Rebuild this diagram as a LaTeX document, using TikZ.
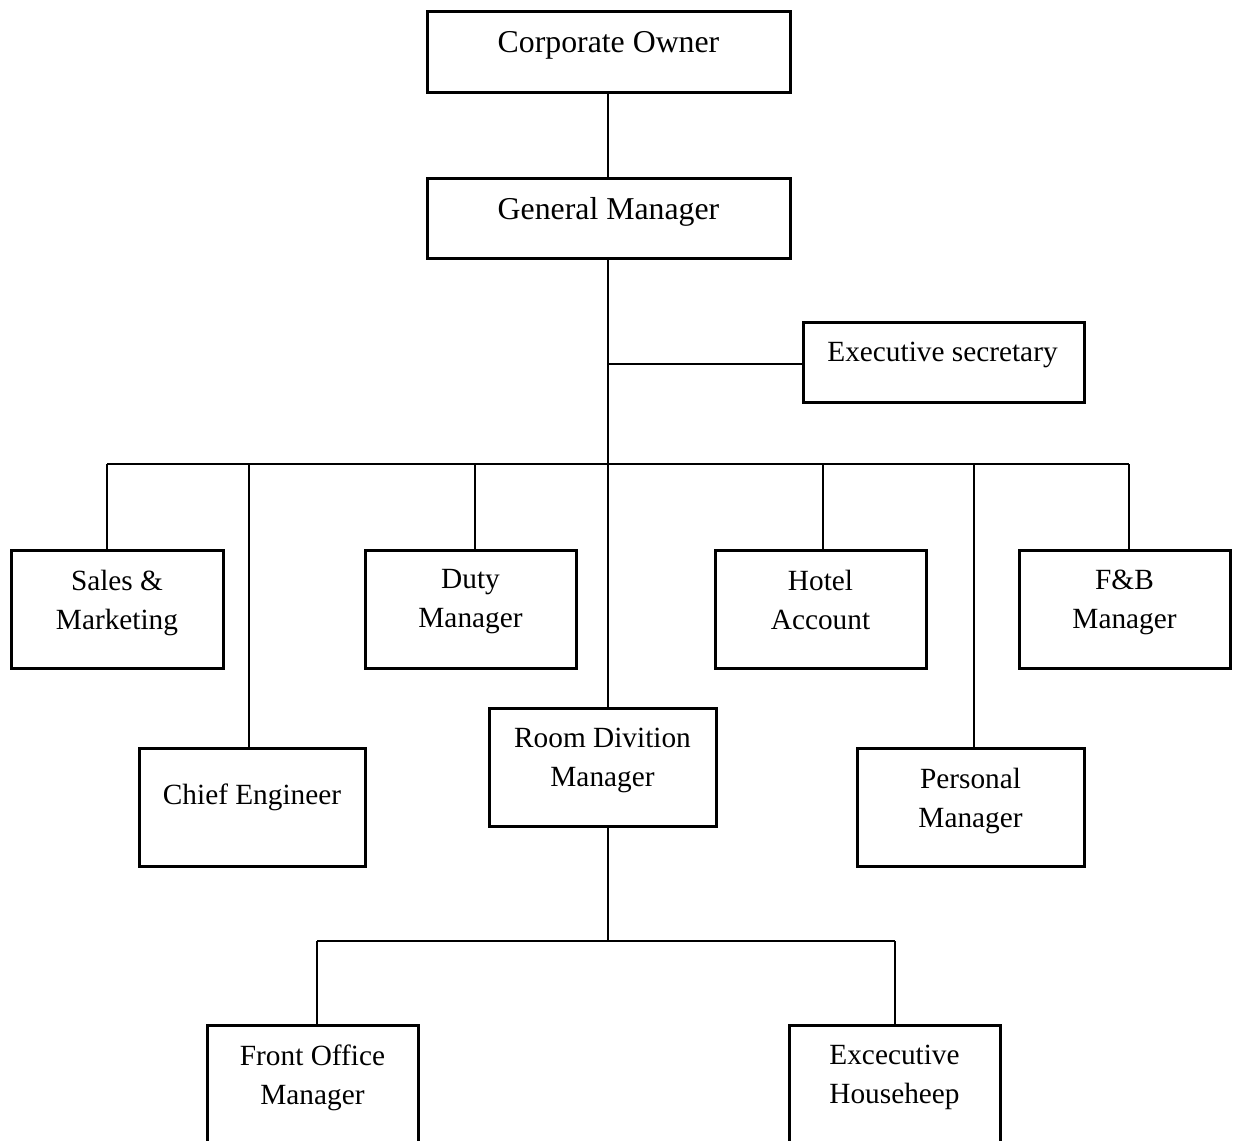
\documentclass[tikz,border=0pt]{standalone}
\usepackage{fontspec}
\setmainfont{Liberation Serif}
\begin{document}
\begin{tikzpicture}[x=1pt,y=-1pt,
  box/.style={draw=black, line width=3pt, inner sep=0pt},
  lbl/.style={anchor=north, inner sep=0pt, align=center, font=\fontsize{29.3}{39}\selectfont},
  biglbl/.style={lbl, font=\fontsize{31.8}{39}\selectfont},
  conn/.style={draw=black, line width=1.3pt}]
\useasboundingbox (0,0) rectangle (1238,1140);
\clip (0,0) rectangle (1238,1140);
% boxes
\node[box, minimum width=363pt, minimum height=80pt] (co) at (608.5,52) {};
\node[box, minimum width=363pt, minimum height=80pt] (gm) at (608.5,218) {};
\node[box, minimum width=281pt, minimum height=80pt] (es) at (943.5,362) {};
\node[box, minimum width=212pt, minimum height=118pt] (sm) at (117,609) {};
\node[box, minimum width=211pt, minimum height=118pt] (dm) at (470.5,609) {};
\node[box, minimum width=211pt, minimum height=118pt] (ha) at (820.5,609) {};
\node[box, minimum width=211pt, minimum height=118pt] (fb) at (1124.5,609) {};
\node[box, minimum width=226pt, minimum height=118pt] (ce) at (252,807) {};
\node[box, minimum width=227pt, minimum height=118pt] (rd) at (602.5,767) {};
\node[box, minimum width=227pt, minimum height=118pt] (pm) at (970.5,807) {};
\node[box, minimum width=211pt, minimum height=118pt] (fo) at (312.5,1084) {};
\node[box, minimum width=211pt, minimum height=118pt] (eh) at (894.5,1084) {};
% labels
\node[biglbl] (coT) at (608.5,31) {Corporate Owner};
\node[biglbl] (gmT) at (608.5,197) {General Manager};
\node[lbl] (esT) at (942.5,342) {Executive secretary};
\node[lbl] (smT) at (117,569.5) {Sales \&\\Marketing};
\node[lbl] (dmT) at (470.5,569.5) {Duty\\Manager};
\node[lbl] (haT) at (820.5,569.5) {Hotel\\Account};
\node[lbl] (fbT) at (1124.5,569.5) {F\&B\\Manager};
\node[lbl] (ceT) at (252,783.5) {Chief Engineer};
\node[lbl] (rdT) at (602.5,727.5) {Room Divition\\Manager};
\node[lbl] (pmT) at (970.5,767.5) {Personal\\Manager};
\node[lbl] (foT) at (312.5,1044.5) {Front Office\\Manager};
\node[lbl] (ehT) at (894.5,1044.5) {Excecutive\\Househeep};
% bus coordinates
\coordinate (gmS) at (608,258);
\coordinate (esJ) at (608,364);
\coordinate (busC) at (608,464);
\coordinate (b1) at (107,464);
\coordinate (b2) at (249,464);
\coordinate (b3) at (475,464);
\coordinate (b4) at (823,464);
\coordinate (b5) at (974,464);
\coordinate (b6) at (1129,464);
\coordinate (rdS) at (608,826);
\coordinate (bus2) at (608,941);
\coordinate (c1) at (317,941);
\coordinate (c2) at (895,941);
% connectors
\draw[conn] (co.south -| gmS) -- (gm.north -| gmS);
\draw[conn] (gmS) -- (gmS |- rd.north);
\draw[conn] (esJ) -- (es.west |- esJ);
\draw[conn] (b1) -- (b6);
\draw[conn] (b1) -- (b1 |- sm.north);
\draw[conn] (b2) -- (b2 |- ce.north);
\draw[conn] (b3) -- (b3 |- dm.north);
\draw[conn] (b4) -- (b4 |- ha.north);
\draw[conn] (b5) -- (b5 |- pm.north);
\draw[conn] (b6) -- (b6 |- fb.north);
\draw[conn] (rdS |- rd.south) -- (bus2);
\draw[conn] (c1) -- (c2);
\draw[conn] (c1) -- (c1 |- fo.north);
\draw[conn] (c2) -- (c2 |- eh.north);
\end{tikzpicture}
\end{document}
